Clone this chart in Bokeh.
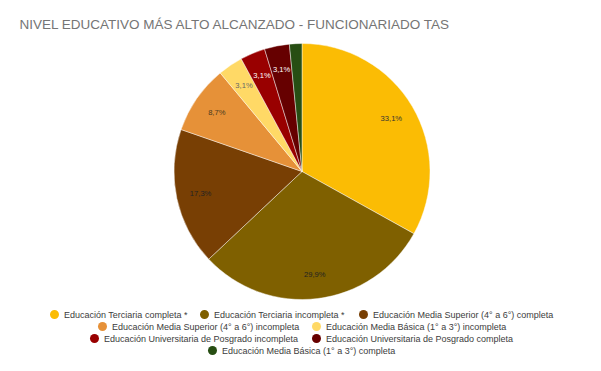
import math
from bokeh.plotting import figure
from bokeh.models import Range1d, ColumnDataSource
from bokeh.core.properties import value
from bokeh.embed import file_html
from bokeh.resources import INLINE

title = "NIVEL EDUCATIVO MÁS ALTO ALCANZADO - FUNCIONARIADO TAS"
categories = [
    "Educación Terciaria completa *",
    "Educación Terciaria incompleta *",
    "Educación Media Superior (4° a 6°) completa",
    "Educación Media Superior (4° a 6°) incompleta",
    "Educación Media Básica (1° a 3°) incompleta",
    "Educación Universitaria de Posgrado incompleta",
    "Educación Universitaria de Posgrado completa",
    "Educación Media Básica (1° a 3°) completa",
]
counts = [42, 38, 22, 11, 4, 4, 4, 2]
colors = ["#FBBC04", "#7F6000", "#783F04", "#E69138", "#FFD966",
          "#990000", "#660000", "#274E13"]
label_colors = ["#333333", "#222222", "#222222", "#4a3a20", "#666666",
                "#ffffff", "#ffffff", "#ffffff"]

# layout (screen px -> data units, 1:1)
W, H = 592, 362
def sy(screen_y):
    return H - screen_y

cx, cy, r = 301.5, sy(171), 128
label_frac = 0.81

total = sum(counts)
starts, ends, lx, ly, ltxt, lcol = [], [], [], [], [], []
cum = 0.0
for i, c in enumerate(counts):
    f0 = cum / total
    f1 = (cum + c) / total
    cum += c
    starts.append(math.pi / 2 - 2 * math.pi * f0)
    ends.append(math.pi / 2 - 2 * math.pi * f1)
    p_ = 100.0 * c / total
    mid = 2 * math.pi * (f0 + f1) / 2
    if p_ >= 2:
        lx.append(cx + label_frac * r * math.sin(mid))
        ly.append(cy + label_frac * r * math.cos(mid))
        ltxt.append(f"{p_:.1f}%".replace(".", ","))
        lcol.append(label_colors[i])

p = figure(width=W, height=H, x_range=Range1d(0, W), y_range=Range1d(0, H),
           output_backend="svg", toolbar_location=None, min_border=0,
           x_axis_type=None, y_axis_type=None, outline_line_color=None)
p.grid.visible = False

src = ColumnDataSource(dict(start=starts, end=ends, color=colors))
p.wedge(x=cx, y=cy, radius=r, start_angle="start", end_angle="end",
        direction="clock", fill_color="color", line_color="white",
        line_width=0.8, line_alpha=0.55, source=src)

p.text(x=lx, y=ly, text=ltxt, text_color=lcol, text_font=value("Liberation Sans"),
       text_font_size="7.6px", text_align="center", text_baseline="middle")

p.text(x=[19], y=[sy(24)], text=[title], text_color="#757575",
       text_font=value("Liberation Sans"), text_font_size="13.5px",
       text_align="left", text_baseline="middle")

# legend layout: circle centres per row (screen px)
rows_x = [[54, 204, 363], [102, 316], [94, 316], [212]]
rows_y = [314, 326, 338, 350]
leg_x, leg_y, leg_tx = [], [], []
for row, yy in zip(rows_x, rows_y):
    for xx in row:
        leg_x.append(xx)
        leg_y.append(sy(yy))
        leg_tx.append(xx + 9.5)

p.scatter(x=leg_x, y=leg_y, size=9, marker="circle", fill_color=colors,
          line_color=None)
p.text(x=leg_tx, y=leg_y, text=categories, text_color="#3c3c3c",
       text_font=value("Liberation Sans"), text_font_size="9px",
       text_align="left", text_baseline="middle")

open("out.html", "w").write(file_html(p, INLINE))
